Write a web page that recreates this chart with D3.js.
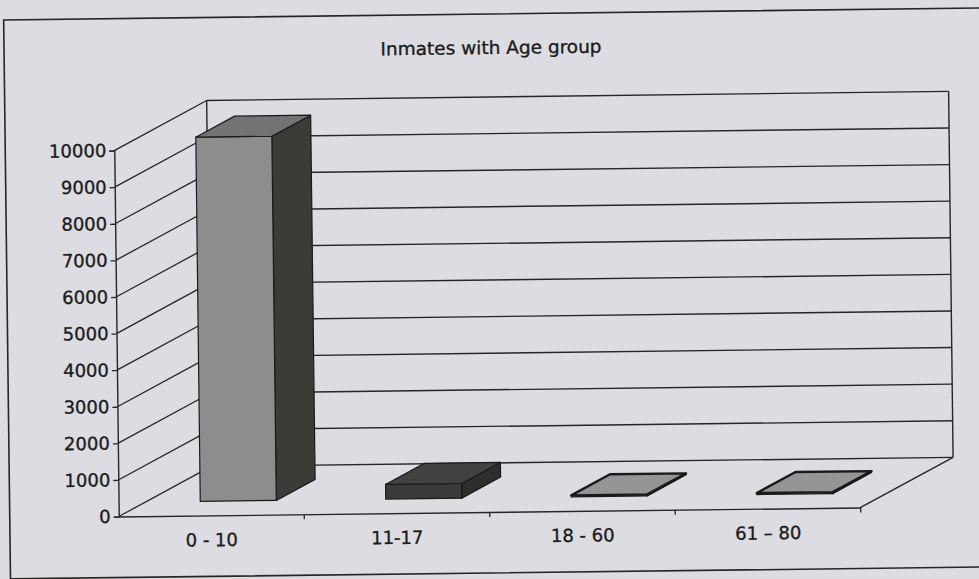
<!DOCTYPE html>
<html>
<head>
<meta charset="utf-8">
<script src="https://cdn.jsdelivr.net/npm/d3@7"></script>
<style>
  html, body { margin: 0; padding: 0; background: #dcdce2; }
  svg { display: block; }
  text { font-family: "DejaVu Sans", sans-serif; fill: #1c1c1c; stroke: #1c1c1c; stroke-width: 0.35px; }
</style>
</head>
<body>
<svg id="chart" width="979" height="579"></svg>
<script>
// Age groups and inmate counts
const categories = ["0 - 10", "11-17", "18 - 60", "61 – 80"];
const inmates = [9950, 400, 40, 40];
const yTicks = [0, 1000, 2000, 3000, 4000, 5000, 6000, 7000, 8000, 9000, 10000];
const chartTitle = "Inmates with Age group";

// Face colours per bar: front, side, top
const barStyles = [
  { front: "#8d8d8d", side: "#3b3c38", top: "#737373" },
  { front: "#3a3a38", side: "#2e2e2c", top: "#424240" },
  { front: "#8f8f8f", side: "#555555", top: "#959595" },
  { front: "#8f8f8f", side: "#555555", top: "#959595" }
];

const W = 979, H = 579;
const X0 = 116, X1 = 858, Y_BASE = 512, Y_TOP = 146;
const DEPTH = { dx: 93, dy: -49 };       // oblique offset of the back wall
const F_FRONT = 0.29, F_BACK = 0.71;     // bar depth span as a fraction of the wall depth
const INK = "#262626";

const svg = d3.select("#chart");
svg.append("rect").attr("width", W).attr("height", H).attr("fill", "#dcdce2");

// whole sheet sits slightly askew
const g = svg.append("g").attr("transform", "rotate(-0.7, 490, 290)");

const x = d3.scaleBand().domain(categories).range([X0, X1])
  .paddingInner(0.59).paddingOuter(0.295);
const y = d3.scaleLinear().domain([0, 10000]).range([Y_BASE, Y_TOP]);

// outer chart border
g.append("rect")
  .attr("x", 7).attr("y", 14).attr("width", 990).attr("height", 559)
  .attr("fill", "none").attr("stroke", INK).attr("stroke-width", 1.6);

// title
g.append("text")
  .attr("x", 494).attr("y", 54)
  .attr("text-anchor", "middle")
  .attr("font-size", 18)
  .attr("textLength", 221).attr("lengthAdjust", "spacingAndGlyphs")
  .text(chartTitle);

const bx0 = X0 + DEPTH.dx, bx1 = X1 + DEPTH.dx;

// back wall gridlines
g.append("g").selectAll("line").data(yTicks).join("line")
  .attr("x1", bx0).attr("x2", bx1)
  .attr("y1", d => y(d) + DEPTH.dy).attr("y2", d => y(d) + DEPTH.dy)
  .attr("stroke", INK).attr("stroke-width", 1.4);

// left wall diagonal gridlines
g.append("g").selectAll("line").data(yTicks).join("line")
  .attr("x1", X0).attr("x2", bx0)
  .attr("y1", d => y(d)).attr("y2", d => y(d) + DEPTH.dy)
  .attr("stroke", INK).attr("stroke-width", 1.3);

// wall edges
const edges = [
  [bx0, y(0) + DEPTH.dy, bx0, y(10000) + DEPTH.dy],
  [bx1, y(0) + DEPTH.dy, bx1, y(10000) + DEPTH.dy],
  [X1, y(0), bx1, y(0) + DEPTH.dy]
];
g.append("g").selectAll("line").data(edges).join("line")
  .attr("x1", d => d[0]).attr("y1", d => d[1])
  .attr("x2", d => d[2]).attr("y2", d => d[3])
  .attr("stroke", INK).attr("stroke-width", 1.4);

// 3D columns
const w = x.bandwidth();
const ddx = DEPTH.dx * (F_BACK - F_FRONT), ddy = DEPTH.dy * (F_BACK - F_FRONT);
const bars = g.append("g").selectAll("g").data(categories.map((c, i) => ({ c, v: inmates[i], s: barStyles[i] })))
  .join("g");

bars.each(function (d) {
  const el = d3.select(this);
  const left = x(d.c) + DEPTH.dx * F_FRONT;
  const b = y(0) + DEPTH.dy * F_FRONT;
  const t = y(d.v) + DEPTH.dy * F_FRONT;
  const pts = a => a.map(p => p.join(",")).join(" ");
  el.append("polygon")
    .attr("points", pts([[left + w, t], [left + w + ddx, t + ddy], [left + w + ddx, b + ddy], [left + w, b]]))
    .attr("fill", d.s.side).attr("stroke", "#1a1a1a").attr("stroke-width", 1.2).attr("stroke-linejoin", "round");
  el.append("rect")
    .attr("x", left).attr("y", t).attr("width", w).attr("height", b - t)
    .attr("fill", d.s.front).attr("stroke", "#1a1a1a").attr("stroke-width", 1.2);
  el.append("polygon")
    .attr("points", pts([[left, t], [left + ddx, t + ddy], [left + w + ddx, t + ddy], [left + w, t]]))
    .attr("fill", d.s.top).attr("stroke", "#1a1a1a").attr("stroke-width", d.v < 100 ? 2.4 : 1.2)
    .attr("stroke-linejoin", "round");
});

// value axis
const yAxis = g.append("g").attr("transform", `translate(${X0},0)`)
  .call(d3.axisLeft(y).tickValues(yTicks).tickSize(5).tickPadding(3).tickFormat(d3.format("d")));
yAxis.select(".domain").attr("stroke", INK).attr("stroke-width", 1.4);
yAxis.selectAll(".tick line").attr("stroke", INK).attr("stroke-width", 1.3);
yAxis.selectAll("text").attr("font-size", 18).attr("font-family", "DejaVu Sans")
  .attr("fill", "#1c1c1c").attr("stroke", "#1c1c1c").attr("stroke-width", 0.35);

// category axis
const xAxis = g.append("g").attr("transform", `translate(0,${Y_BASE})`)
  .call(d3.axisBottom(x).tickSize(0).tickPadding(18));
xAxis.select(".domain").attr("stroke", INK).attr("stroke-width", 1.4);
xAxis.selectAll("text").attr("font-size", 18).attr("font-family", "DejaVu Sans")
  .attr("fill", "#1c1c1c").attr("stroke", "#1c1c1c").attr("stroke-width", 0.35);

// boundary ticks between categories
const step = x.step();
g.append("g").selectAll("line").data(d3.range(1, categories.length + 1)).join("line")
  .attr("x1", i => X0 + i * step).attr("x2", i => X0 + i * step)
  .attr("y1", Y_BASE).attr("y2", Y_BASE + 5)
  .attr("stroke", INK).attr("stroke-width", 1.3);
</script>
</body>
</html>
